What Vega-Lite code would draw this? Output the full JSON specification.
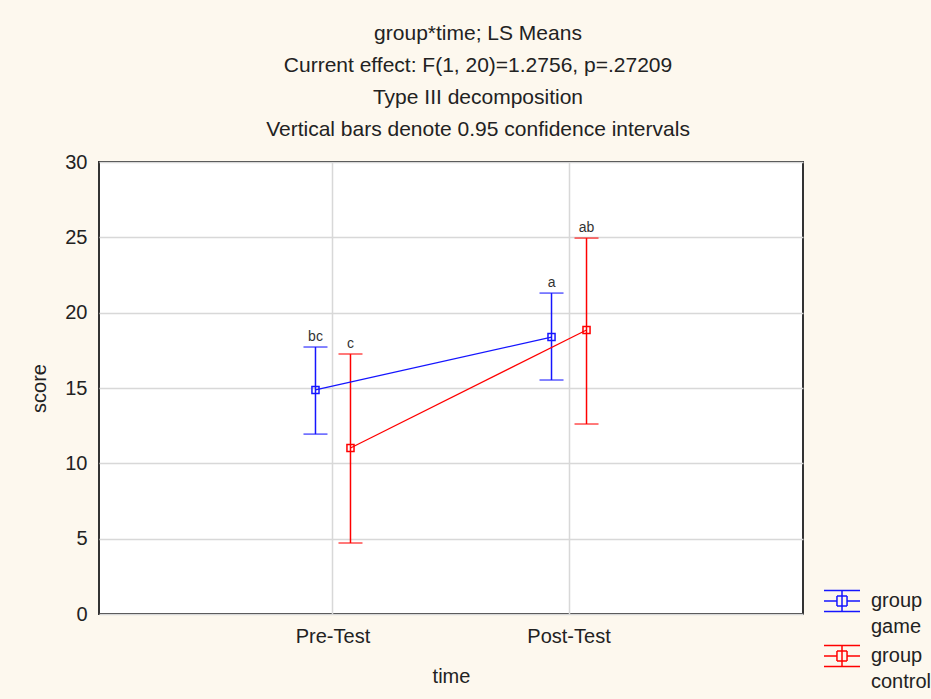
{
  "$schema": "https://vega.github.io/schema/vega-lite/v6.json",
  "width": 704,
  "height": 452,
  "autosize": "none",
  "padding": {"left": 99, "top": 162, "right": 128, "bottom": 85},
  "background": "#fdf8ee",
  "config": {
    "font": "Liberation Sans",
    "view": {"fill": "white", "stroke": "#333333", "strokeWidth": 2},
    "style": {"guide-label": {"lineHeight": 26}},
    "axis": {"labelFont": "Liberation Sans", "titleFont": "Liberation Sans", "labelColor": "#222", "titleColor": "#222", "labelFontSize": 20, "titleFontSize": 20, "titleFontWeight": "normal", "gridColor": "#d8d8d8", "gridWidth": 1.5, "domain": false, "ticks": false}
  },
  "title": {
    "text": ["group*time; LS Means", "Current effect: F(1, 20)=1.2756, p=.27209", "Type III decomposition", "Vertical bars denote 0.95 confidence intervals"],
    "anchor": "middle",
    "frame": "group",
    "dx": 27,
    "offset": 12,
    "fontSize": 21,
    "fontWeight": "normal",
    "color": "#222",
    "lineHeight": 32,
    "font": "Liberation Sans"
  },
  "data": {
    "values": [
      {"time": "Pre-Test", "group": "game", "mean": 14.87, "lo": 11.94, "hi": 17.72, "label": "bc"},
      {"time": "Pre-Test", "group": "control", "mean": 11.02, "lo": 4.71, "hi": 17.25, "label": "c"},
      {"time": "Post-Test", "group": "game", "mean": 18.38, "lo": 15.53, "hi": 21.30, "label": "a"},
      {"time": "Post-Test", "group": "control", "mean": 18.85, "lo": 12.61, "hi": 24.95, "label": "ab"}
    ]
  },
  "encoding": {
    "x": {"field": "time", "type": "nominal", "sort": ["Pre-Test", "Post-Test"],
      "scale": {"type": "band", "paddingInner": 0.7034, "paddingOuter": 0.843},
      "axis": {"title": "time", "labelAngle": 0, "grid": true, "bandPosition": 0.5, "labelPadding": 12, "titlePadding": 20}},
    "xOffset": {"field": "group", "type": "nominal", "sort": ["game", "control"], "scale": {"paddingInner": 0, "paddingOuter": 0}},
    "color": {"field": "group", "type": "nominal", "sort": ["game", "control"],
      "scale": {"domain": ["game", "control"], "range": ["#1515ff", "#ff0000"]},
      "legend": {
        "title": null,
        "orient": "none",
        "legendX": 724,
        "legendY": 420,
        "symbolType": "M-1,-0.58H1M-1,0.58H1M0,-0.58V0.58M-1,0H-0.28M0.28,0H1M-0.28,-0.28H0.28M0.28,-0.28V0.28M0.28,0.28H-0.28M-0.28,0.28V-0.28",
        "symbolSize": 1296,
        "symbolStrokeWidth": 1.5,
        "symbolOpacity": 1,
        "symbolFillColor": "transparent",
        "labelFont": "Liberation Sans",
        "labelFontSize": 20,
        "labelColor": "#222",
        "labelOffset": 10,
        "labelExpr": "['group', datum.label]",
        "rowPadding": 0,
        "encoding": {
          "symbols": {"update": {"fill": {"value": "transparent"}, "stroke": {"scale": "color", "field": "value"}, "strokeWidth": {"value": 1.5}, "opacity": {"value": 1}}},
          "labels": {"update": {"baseline": {"value": "top"}, "dy": {"value": -9}, "lineHeight": {"value": 26}}}
        }
      }}
  },
  "layer": [
    {
      "mark": {"type": "rule", "strokeWidth": 1.5},
      "encoding": {
        "y": {"field": "lo", "type": "quantitative", "scale": {"domain": [0, 30]},
          "axis": {"title": "score", "values": [0, 5, 10, 15, 20, 25, 30], "grid": true, "labelPadding": 12, "titlePadding": 15}},
        "y2": {"field": "hi"}
      }
    },
    {
      "mark": {"type": "tick", "thickness": 1.5, "size": 24},
      "encoding": {"y": {"field": "lo", "type": "quantitative"}}
    },
    {
      "mark": {"type": "tick", "thickness": 1.5, "size": 24},
      "encoding": {"y": {"field": "hi", "type": "quantitative"}}
    },
    {
      "mark": {"type": "line", "strokeWidth": 1.2},
      "encoding": {"y": {"field": "mean", "type": "quantitative"}}
    },
    {
      "mark": {"type": "point", "shape": "square", "filled": false, "size": 50, "strokeWidth": 1.5, "opacity": 1},
      "encoding": {"y": {"field": "mean", "type": "quantitative"}}
    },
    {
      "mark": {"type": "text", "dy": -6, "fontSize": 14, "baseline": "alphabetic"},
      "encoding": {"y": {"field": "hi", "type": "quantitative"}, "text": {"field": "label"}, "color": {"value": "#333"}}
    }
  ],
  "resolve": {"legend": {"color": "shared"}}
}
